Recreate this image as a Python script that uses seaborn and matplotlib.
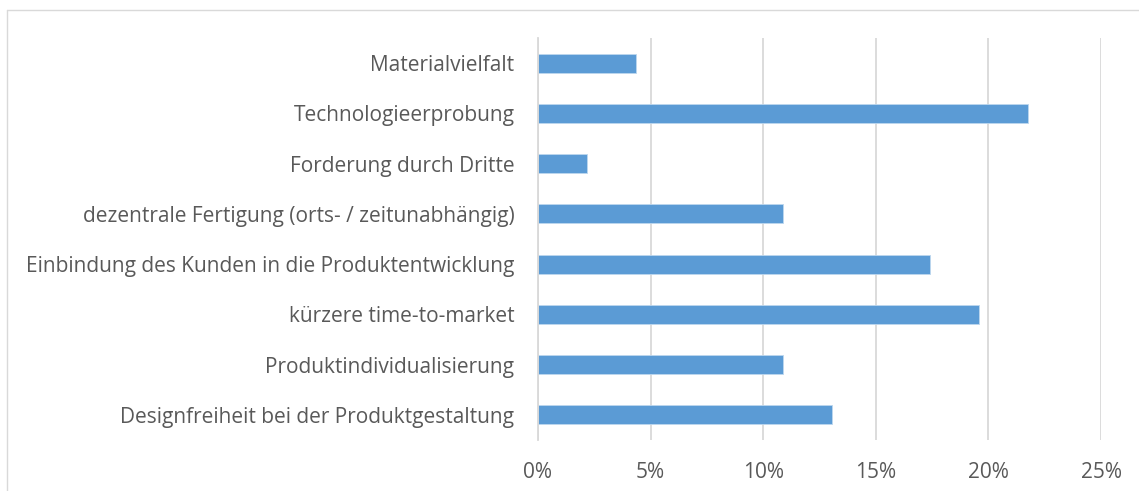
import matplotlib
matplotlib.use("Agg")
import matplotlib.pyplot as plt
import seaborn as sns
import pandas as pd
from matplotlib.lines import Line2D

categories = [
    "Materialvielfalt",
    "Technologieerprobung",
    "Forderung durch Dritte",
    "dezentrale Fertigung (orts- / zeitunabhängig)",
    "Einbindung des Kunden in die Produktentwicklung",
    "kürzere time-to-market",
    "Produktindividualisierung",
    "Designfreiheit bei der Produktgestaltung",
]
values = [4.35, 21.74, 2.17, 10.87, 17.39, 19.57, 10.87, 13.04]
xticks = [0, 5, 10, 15, 20, 25]
xticklabels = ["0%", "5%", "10%", "15%", "20%", "25%"]

sns.set_style("white")
plt.rcParams["font.family"] = ["Open Sans", "DejaVu Sans"]

df = pd.DataFrame({"cat": categories, "val": values})

fig = plt.figure(figsize=(11.39, 4.91), dpi=100)
ax = fig.add_axes([538 / 1139, 1 - 440 / 491, (1101 - 538) / 1139, (440 - 38) / 491])

sns.barplot(data=df, x="val", y="cat", ax=ax, color="#5B9BD5", width=0.38,
            saturation=1, edgecolor="#BDD7EE", linewidth=0.6)

ax.set_xlim(0, 25)
ax.set_xticks(xticks)
ax.set_xticklabels(xticklabels)
ax.set_xlabel("")
ax.set_ylabel("")
ax.xaxis.grid(True, color="#D9D9D9", linewidth=1.3)
ax.set_axisbelow(True)
for s in ["top", "right", "bottom"]:
    ax.spines[s].set_visible(False)
ax.spines["left"].set_color("#D9D9D9")
ax.spines["left"].set_linewidth(1.3)
ax.tick_params(axis="both", length=0, colors="#595959", labelsize=15)
ax.tick_params(axis="x", pad=16)
ax.tick_params(axis="y", pad=17)

# outer chart border (top and left)
fig.add_artist(Line2D([7 / 1139, 1], [1 - 10 / 491, 1 - 10 / 491],
                      transform=fig.transFigure, color="#D9D9D9", linewidth=1))
fig.add_artist(Line2D([7 / 1139, 7 / 1139], [0, 1 - 10 / 491],
                      transform=fig.transFigure, color="#D9D9D9", linewidth=1))

fig.savefig("out.png", dpi=100, facecolor="white")
